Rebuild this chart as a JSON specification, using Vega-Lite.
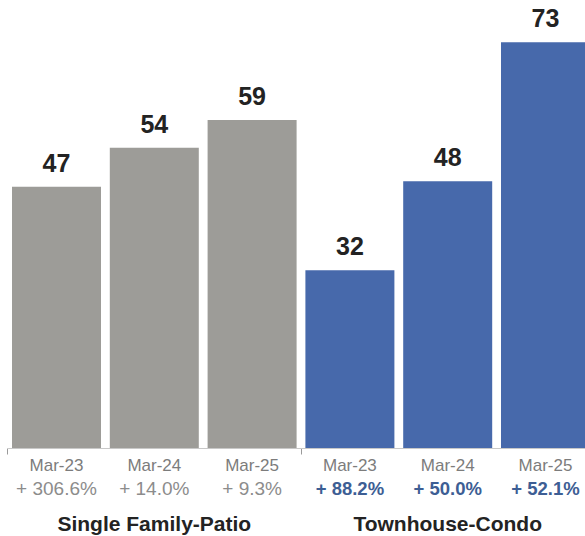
{
  "$schema": "https://vega.github.io/schema/vega-lite/v6.json",
  "width": 585,
  "height": 536,
  "autosize": "none",
  "padding": 0,
  "background": "#ffffff",
  "config": {
    "view": {"stroke": null},
    "font": "Liberation Sans"
  },
  "data": {
    "values": [
      {"group": "Single Family-Patio", "period": "Mar-23", "count": 47, "change": "+ 306.6%"},
      {"group": "Single Family-Patio", "period": "Mar-24", "count": 54, "change": "+ 14.0%"},
      {"group": "Single Family-Patio", "period": "Mar-25", "count": 59, "change": "+ 9.3%"},
      {"group": "Townhouse-Condo", "period": "Mar-23", "count": 32, "change": "+ 88.2%"},
      {"group": "Townhouse-Condo", "period": "Mar-24", "count": 48, "change": "+ 50.0%"},
      {"group": "Townhouse-Condo", "period": "Mar-25", "count": 73, "change": "+ 52.1%"}
    ]
  },
  "encoding": {
    "x": {
      "field": "group",
      "type": "nominal",
      "sort": ["Single Family-Patio", "Townhouse-Condo"],
      "scale": {"range": [7.6, 594.4], "paddingInner": 0, "paddingOuter": 0},
      "axis": {
        "labels": false,
        "title": null,
        "bandPosition": 0,
        "domainColor": "#c8c8c8",
        "tickColor": "#9a9a9a",
        "tickSize": 6,
        "offset": -88
      }
    },
    "xOffset": {
      "field": "period",
      "type": "nominal",
      "sort": ["Mar-23", "Mar-24", "Mar-25"],
      "scale": {"paddingInner": 0.09, "paddingOuter": 0.045}
    }
  },
  "layer": [
    {
      "mark": {"type": "bar"},
      "encoding": {
        "y": {
          "field": "count",
          "type": "quantitative",
          "scale": {"domain": [0, 80.6], "range": [448, 0], "nice": false},
          "axis": null
        },
        "color": {
          "field": "group",
          "type": "nominal",
          "scale": {"domain": ["Single Family-Patio", "Townhouse-Condo"], "range": ["#9d9c98", "#4769ab"]},
          "legend": null
        }
      }
    },
    {
      "mark": {"type": "text", "baseline": "alphabetic", "dy": -15, "fontSize": 25, "fontWeight": "bold", "color": "#232323"},
      "encoding": {
        "y": {"field": "count", "type": "quantitative"},
        "text": {"field": "count", "type": "quantitative"}
      }
    },
    {
      "mark": {"type": "text", "baseline": "alphabetic", "dy": 23, "fontSize": 17, "color": "#7c7c7c"},
      "encoding": {
        "y": {"datum": 0, "type": "quantitative"},
        "text": {"field": "period"}
      }
    },
    {
      "transform": [{"filter": "datum.group === 'Single Family-Patio'"}],
      "mark": {"type": "text", "baseline": "alphabetic", "dy": 47, "fontSize": 19, "color": "#8c8c8c"},
      "encoding": {
        "y": {"datum": 0, "type": "quantitative"},
        "text": {"field": "change"}
      }
    },
    {
      "transform": [{"filter": "datum.group === 'Townhouse-Condo'"}],
      "mark": {"type": "text", "baseline": "alphabetic", "dy": 47, "fontSize": 18.5, "fontWeight": "bold", "color": "#3d5e94"},
      "encoding": {
        "y": {"datum": 0, "type": "quantitative"},
        "text": {"field": "change"}
      }
    },
    {
      "transform": [{"filter": "datum.period === 'Mar-24'"}],
      "mark": {"type": "text", "baseline": "alphabetic", "dy": 83, "fontSize": 21, "fontWeight": "bold", "color": "#232323"},
      "encoding": {
        "y": {"datum": 0, "type": "quantitative"},
        "text": {"field": "group"}
      }
    }
  ]
}
